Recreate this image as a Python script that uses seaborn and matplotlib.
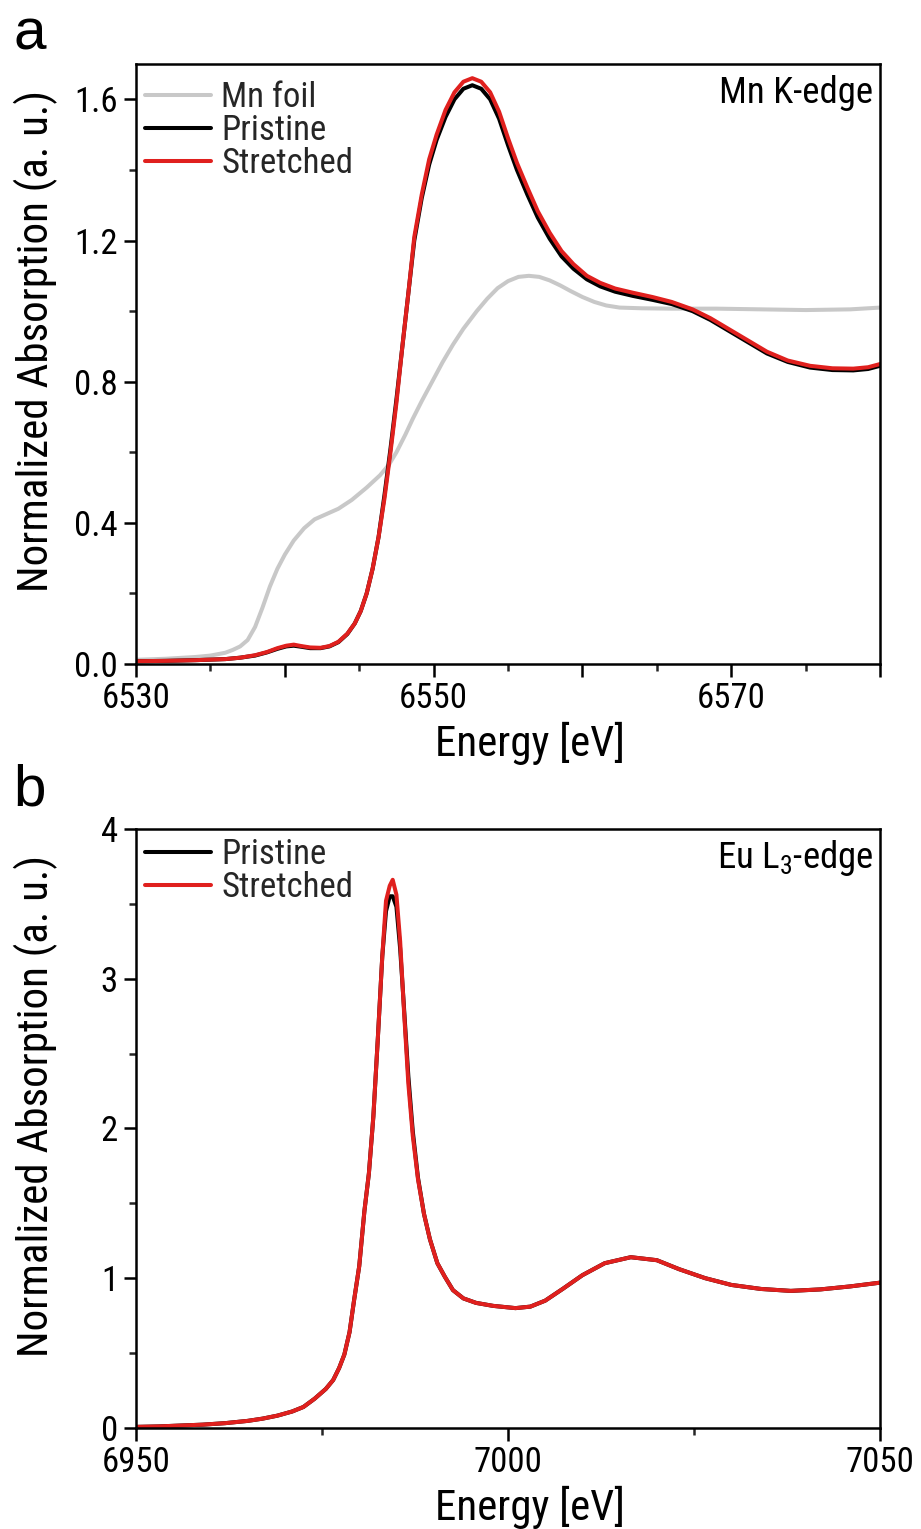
import numpy as np
import pandas as pd
import matplotlib
matplotlib.use("Agg")
import matplotlib.pyplot as plt
import seaborn as sns
from matplotlib import font_manager
from matplotlib.ticker import MultipleLocator, FuncFormatter

# ---------------- data ----------------
mn_foil_E = [6530, 6532, 6534, 6535, 6536, 6536.5, 6537, 6537.5, 6538.0, 6538.5, 6539.0, 6539.5,
             6540.0, 6540.6, 6541.3, 6542.0, 6542.8, 6543.6, 6544.5, 6545.5, 6546.4, 6547.0,
             6547.5, 6548.1, 6548.6, 6549.2, 6549.9, 6550.6, 6551.3, 6552.0, 6552.9, 6553.6,
             6554.3, 6555.0, 6555.7, 6556.4, 6557.1, 6557.8, 6558.5, 6559.2, 6560.0, 6560.8,
             6561.6, 6562.5, 6564, 6566, 6569, 6572, 6575, 6578, 6580]
mn_foil_mu = [0.012, 0.015, 0.02, 0.024, 0.032, 0.04, 0.05, 0.068, 0.105, 0.16, 0.22, 0.27,
              0.31, 0.35, 0.385, 0.41, 0.425, 0.44, 0.465, 0.50, 0.535, 0.565,
              0.60, 0.65, 0.695, 0.745, 0.80, 0.855, 0.905, 0.95, 1.0, 1.035,
              1.065, 1.085, 1.097, 1.10, 1.097, 1.087, 1.073, 1.057, 1.04, 1.026,
              1.016, 1.010, 1.008, 1.007, 1.007, 1.005, 1.003, 1.005, 1.01]

mn_E = [6530, 6532, 6534, 6536, 6537, 6538, 6538.8, 6539.5, 6540.1, 6540.6, 6541.1, 6541.7,
        6542.4, 6543.0, 6543.6, 6544.2, 6544.7, 6545.1, 6545.5, 6545.9, 6546.3, 6546.7,
        6547.1, 6547.5, 6547.9, 6548.3, 6548.7, 6549.2, 6549.7, 6550.2, 6550.8, 6551.4,
        6552.0, 6552.6, 6553.2, 6553.8, 6554.4, 6555.0, 6555.6, 6556.3, 6557.0, 6557.8,
        6558.6, 6559.4, 6560.3, 6561.2, 6562.2, 6563.4, 6564.7, 6566.0, 6567.4, 6568.6,
        6569.8, 6571.0, 6572.4, 6573.8, 6575.3, 6576.8, 6578.2, 6579.2, 6580]
mn_pristine = [0.008, 0.009, 0.011, 0.014, 0.018, 0.024, 0.033, 0.043, 0.05, 0.052, 0.049, 0.045,
               0.045, 0.05, 0.062, 0.085, 0.115, 0.15, 0.2, 0.27, 0.36, 0.48,
               0.61, 0.75, 0.9, 1.05, 1.20, 1.32, 1.415, 1.485, 1.55, 1.60,
               1.63, 1.64, 1.63, 1.60, 1.545, 1.47, 1.40, 1.33, 1.265, 1.205,
               1.155, 1.12, 1.09, 1.07, 1.055, 1.043, 1.032, 1.02, 1.0, 0.975,
               0.945, 0.915, 0.88, 0.856, 0.84, 0.833, 0.832, 0.836, 0.845]
mn_stretched = [0.008, 0.009, 0.011, 0.014, 0.018, 0.025, 0.034, 0.045, 0.052, 0.055, 0.051, 0.047,
                0.046, 0.051, 0.063, 0.086, 0.115, 0.15, 0.2, 0.27, 0.36, 0.47,
                0.6, 0.74, 0.9, 1.05, 1.21, 1.33, 1.43, 1.50, 1.57, 1.62,
                1.65, 1.66, 1.65, 1.62, 1.565, 1.49, 1.42, 1.35, 1.283, 1.222,
                1.17, 1.133, 1.10, 1.08, 1.064, 1.052, 1.04, 1.026, 1.005, 0.98,
                0.95, 0.92, 0.885, 0.86, 0.845, 0.838, 0.837, 0.841, 0.85]

eu_E = [6950, 6953, 6956, 6959, 6962, 6965, 6967, 6969, 6971, 6972.5, 6974, 6975.5, 6976.5,
        6977.3, 6978, 6978.7, 6979.3, 6980, 6980.7, 6981.3, 6981.9, 6982.5, 6983.1, 6983.6,
        6984.1, 6984.5, 6985.0, 6985.5, 6986.0, 6986.6, 6987.2, 6987.9, 6988.7, 6989.5,
        6990.5, 6991.5, 6992.6, 6994.0, 6995.7, 6998, 7001, 7003, 7005, 7007.4, 7010, 7013,
        7016.5, 7020, 7023, 7026.5, 7030, 7034, 7038, 7042, 7046, 7050]
eu_stretched = [0.007, 0.010, 0.016, 0.022, 0.032, 0.047, 0.062, 0.082, 0.11, 0.14, 0.195, 0.26, 0.32,
                0.40, 0.49, 0.64, 0.85, 1.08, 1.45, 1.70, 2.08, 2.6, 3.15, 3.52,
                3.62, 3.66, 3.56, 3.25, 2.8, 2.3, 1.95, 1.66, 1.43, 1.26,
                1.10, 1.01, 0.92, 0.865, 0.835, 0.815, 0.80, 0.81, 0.85, 0.93, 1.02, 1.10,
                1.14, 1.12, 1.06, 1.0, 0.955, 0.928, 0.915, 0.925, 0.945, 0.97]
eu_pristine = [0.007, 0.010, 0.016, 0.022, 0.032, 0.047, 0.062, 0.082, 0.11, 0.14, 0.195, 0.26, 0.32,
               0.40, 0.49, 0.64, 0.85, 1.08, 1.45, 1.70, 2.08, 2.6, 3.15, 3.45,
               3.55, 3.55, 3.48, 3.2, 2.82, 2.35, 1.98, 1.67, 1.43, 1.26,
               1.10, 1.01, 0.92, 0.865, 0.835, 0.815, 0.80, 0.81, 0.85, 0.93, 1.02, 1.10,
               1.14, 1.12, 1.06, 1.0, 0.955, 0.928, 0.915, 0.925, 0.945, 0.97]

labels_a = ["Mn foil", "Pristine", "Stretched"]
labels_b = ["Pristine", "Stretched"]

# ---------------- style ----------------
sns.set_theme(style="ticks")

# the reference uses a narrow Arial-like face; pick an installed condensed sans
ttf = font_manager.fontManager.ttflist
names = {f.name for f in ttf}
family = "Liberation Sans"
for cand in ["Liberation Sans Narrow", "Arial Narrow", "Roboto Condensed", "Archivo Narrow"]:
    if cand in names:
        family = cand
        break

plt.rcParams["font.family"] = [family, "DejaVu Sans"]
plt.rcParams["mathtext.fontset"] = "custom"
plt.rcParams["mathtext.rm"] = family
plt.rcParams["mathtext.it"] = family
plt.rcParams["axes.linewidth"] = 1.8
plt.rcParams["axes.edgecolor"] = "black"

GRAY = "#c8c8c8"
BLACK = "#000000"
RED = "#e0201e"
LW = 2.9
TICK_FS = 25
LABEL_FS = 31
LEG_FS = 25
NOTE_FS = 26.5

fig = plt.figure(figsize=(9.21, 15.29), dpi=100)
fig.patch.set_facecolor("white")
ax_a = fig.add_axes([0.1477, 0.5657, 0.8078, 0.3924])
ax_b = fig.add_axes([0.1477, 0.0661, 0.8078, 0.3918])

# panel a
df_foil = pd.DataFrame({"E": mn_foil_E, "mu": mn_foil_mu})
df_a = pd.DataFrame({"E": mn_E, "pristine": mn_pristine, "stretched": mn_stretched})
sns.lineplot(data=df_foil, x="E", y="mu", ax=ax_a, color=GRAY, linewidth=LW,
             label=labels_a[0], estimator=None, sort=False)
sns.lineplot(data=df_a, x="E", y="pristine", ax=ax_a, color=BLACK, linewidth=LW,
             label=labels_a[1], estimator=None, sort=False)
sns.lineplot(data=df_a, x="E", y="stretched", ax=ax_a, color=RED, linewidth=LW,
             label=labels_a[2], estimator=None, sort=False)

# panel b
df_b = pd.DataFrame({"E": eu_E, "pristine": eu_pristine, "stretched": eu_stretched})
sns.lineplot(data=df_b, x="E", y="pristine", ax=ax_b, color=BLACK, linewidth=LW,
             label=labels_b[0], estimator=None, sort=False)
sns.lineplot(data=df_b, x="E", y="stretched", ax=ax_b, color=RED, linewidth=LW,
             label=labels_b[1], estimator=None, sort=False)

ax_a.set_xlim(6530, 6580)
ax_a.set_ylim(0, 1.7)
ax_b.set_xlim(6950, 7050)
ax_b.set_ylim(0, 4)

ax_a.xaxis.set_major_locator(MultipleLocator(10))
ax_a.xaxis.set_minor_locator(MultipleLocator(5))
ax_a.xaxis.set_major_formatter(FuncFormatter(lambda v, p: f"{v:.0f}" if int(round(v)) % 20 == 10 else ""))
ax_a.yaxis.set_major_locator(MultipleLocator(0.4))
ax_a.yaxis.set_minor_locator(MultipleLocator(0.2))
ax_a.yaxis.set_major_formatter(FuncFormatter(lambda v, p: f"{v:.1f}"))

ax_b.xaxis.set_major_locator(MultipleLocator(50))
ax_b.xaxis.set_minor_locator(MultipleLocator(25))
ax_b.yaxis.set_major_locator(MultipleLocator(1))
ax_b.yaxis.set_minor_locator(MultipleLocator(0.5))
ax_b.yaxis.set_major_formatter(FuncFormatter(lambda v, p: f"{v:.0f}"))

legend_anchor = {ax_a: (0.012, 0.972), ax_b: (0.012, 0.985)}
for ax in (ax_a, ax_b):
    ax.set_facecolor("white")
    for s in ax.spines.values():
        s.set_visible(True)
        s.set_linewidth(1.8)
        s.set_color("black")
    ax.tick_params(axis="both", which="major", direction="out", length=9, width=1.8,
                   labelsize=TICK_FS, pad=4, color="black", labelcolor="black",
                   top=False, right=False)
    ax.tick_params(axis="both", which="minor", direction="out", length=5, width=1.8,
                   top=False, right=False)
    ax.set_xlabel("Energy [eV]", fontsize=LABEL_FS, color="black")
    ax.set_ylabel("Normalized Absorption (a. u.)", fontsize=LABEL_FS, color="black")
    ax.xaxis.set_label_coords(0.53, -0.097)
    ax.xaxis.label.set_va("top")
    ax.yaxis.set_label_coords(-0.105, 0.538)
    leg = ax.legend(loc="upper left", bbox_to_anchor=legend_anchor[ax], frameon=False,
                    fontsize=LEG_FS, handlelength=1.9, handletextpad=0.3,
                    labelspacing=0.0, borderaxespad=0, borderpad=0)
    for line in leg.get_lines():
        line.set_linewidth(LW)

ax_a.text(0.991, 0.952, "Mn K-edge", transform=ax_a.transAxes, ha="right", va="center",
          fontsize=NOTE_FS, color="black")
ax_b.text(0.991, 0.952, "Eu L$_3$-edge", transform=ax_b.transAxes, ha="right", va="center",
          fontsize=NOTE_FS, color="black")

fig.text(13 / 921, 1 - 50 / 1529, "a", fontsize=42, family="Liberation Sans",
         ha="left", va="baseline", color="black")
fig.text(13 / 921, 1 - 806 / 1529, "b", fontsize=42, family="Liberation Sans",
         ha="left", va="baseline", color="black")

fig.savefig("out.png", dpi=100, facecolor="white")
